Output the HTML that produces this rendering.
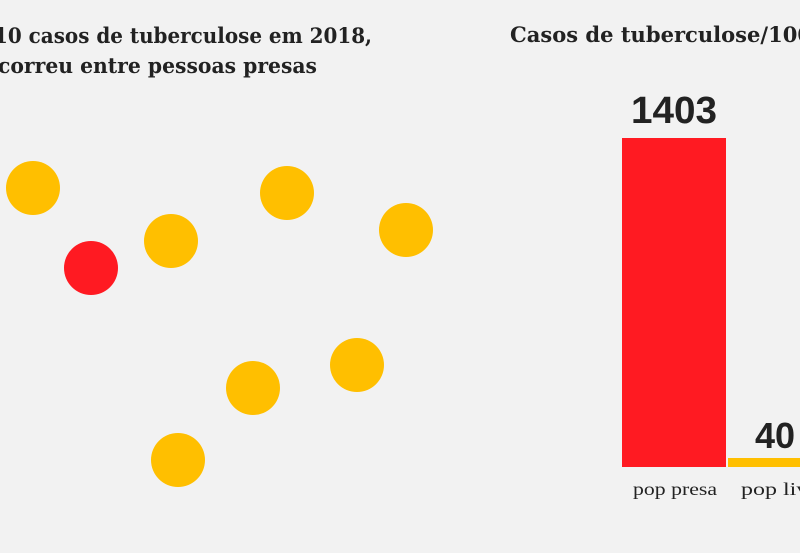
<!DOCTYPE html>
<html><head><style>
html,body{margin:0;padding:0;background:#f2f2f2;}
svg{display:block}
.t{font-family:"DejaVu Serif","Liberation Serif",serif;font-weight:bold;fill:#222;}
</style></head><body>
<svg width="800" height="553" viewBox="0 0 800 553">
<rect width="800" height="553" fill="#f2f2f2"/>
<text class="t" x="-6" y="43" font-size="21" textLength="378" lengthAdjust="spacingAndGlyphs">10 casos de tuberculose em 2018,</text>
<text class="t" x="-2" y="73" font-size="21" textLength="319" lengthAdjust="spacingAndGlyphs">correu entre pessoas presas</text>
<text class="t" x="510" y="42" font-size="21" textLength="302" lengthAdjust="spacingAndGlyphs">Casos de tuberculose/100</text>
<g fill="#ffbf00">
<circle cx="33" cy="188" r="27"/>
<circle cx="171" cy="241" r="27"/>
<circle cx="287" cy="193" r="27"/>
<circle cx="406" cy="230" r="27"/>
<circle cx="253" cy="388" r="27"/>
<circle cx="357" cy="365" r="27"/>
<circle cx="178" cy="460" r="27"/>
</g>
<circle cx="91" cy="268" r="27" fill="#ff1a22"/>
<rect x="622" y="138" width="104" height="329" fill="#ff1a22"/>
<rect x="728" y="458" width="80" height="9" fill="#ffbf00"/>
<text x="631" y="123" font-family="Liberation Sans,sans-serif" font-weight="bold" font-size="38" fill="#222" textLength="86" lengthAdjust="spacingAndGlyphs">1403</text>
<text x="755" y="448" font-family="Liberation Sans,sans-serif" font-weight="bold" font-size="36" fill="#222">40</text>
<text x="633" y="495" font-family="Liberation Serif,serif" font-size="18" fill="#222" textLength="84" lengthAdjust="spacingAndGlyphs">pop presa</text>
<text x="741" y="495" font-family="Liberation Serif,serif" font-size="18" fill="#222" textLength="86" lengthAdjust="spacingAndGlyphs">pop livre</text>
</svg>
</body></html>
